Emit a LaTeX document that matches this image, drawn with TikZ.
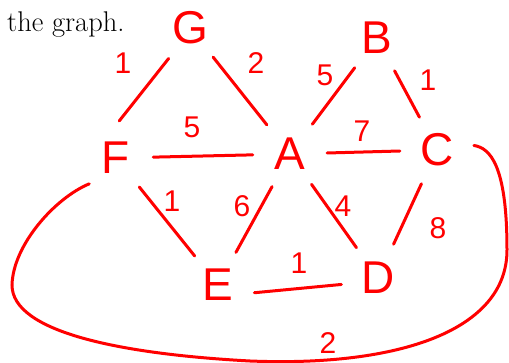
\documentclass[tikz,border=0pt]{standalone}
\usepackage{fontspec}
\newfontfamily\handfont{Liberation Sans}
\definecolor{ink}{HTML}{FF0000}

\begin{document}
\begin{tikzpicture}[x=1pt,y=-1pt,
  vtx/.style={circle,minimum size=74pt,inner sep=0pt,text=ink,
              font={\handfont\fontsize{46}{46}\selectfont}},
  wt/.style={inner sep=0pt,text=ink,font={\handfont\fontsize{30}{30}\selectfont}},
  lnk/.style={draw=ink,line width=3pt,line cap=round}]
  \useasboundingbox (0,0) rectangle (509,363);
  \node[anchor=base west,inner sep=0pt,font={\fontsize{28.5}{32}\selectfont}]
       (title) at (7,32) {the graph.};

  % vertices
  \node[vtx] (G) at (190,28) {G};
  \node[vtx] (B) at (377,38) {B};
  \node[vtx] (F) at (116,158) {F};
  \node[vtx] (A) at (290,154) {A};
  \node[vtx] (C) at (437,150) {C};
  \node[vtx] (E) at (218,285) {E};
  \node[vtx] (D) at (378,278) {D};

  % weights
  \node[wt] (wGF) at (123,63) {1};
  \node[wt] (wGA) at (256,63) {2};
  \node[wt] (wFA) at (192,127) {5};
  \node[wt] (wBA) at (325,75) {5};
  \node[wt] (wBC) at (428,80) {1};
  \node[wt] (wAC) at (362,131) {7};
  \node[wt] (wFE) at (172,201) {1};
  \node[wt] (wAE) at (242,206) {6};
  \node[wt] (wAD) at (343,206) {4};
  \node[wt] (wCD) at (438,228) {8};
  \node[wt] (wED) at (299,263) {1};
  \node[wt] (wFC) at (328,343) {2};

  % edges
  \draw[lnk] (G.235) -- (F.85);
  \draw[lnk] (G) -- (A);
  \draw[lnk] (F) -- (A);
  \draw[lnk] (B) -- (A);
  \draw[lnk] (B) -- (C);
  \draw[lnk] (A) -- (C);
  \draw[lnk] (F) -- (E);
  \draw[lnk] (A) -- (E);
  \draw[lnk] (A) -- (D);
  \draw[lnk] (C) -- (D);
  \draw[lnk] (E.-12) -- (D.190);

  % the long way round from F to C
  \coordinate (lft) at (12,285);
  \coordinate (bot) at (250,361);
  \coordinate (rgt) at (507,250);
  \draw[lnk] (F.224) .. controls (55,198) and (13,245) .. (lft)
             .. controls (12,332) and (120,354) .. (bot)
             .. controls (400,367) and (507,330) .. (rgt)
             .. controls (507,165) and (490,148) .. (C.7);
\end{tikzpicture}
\end{document}
